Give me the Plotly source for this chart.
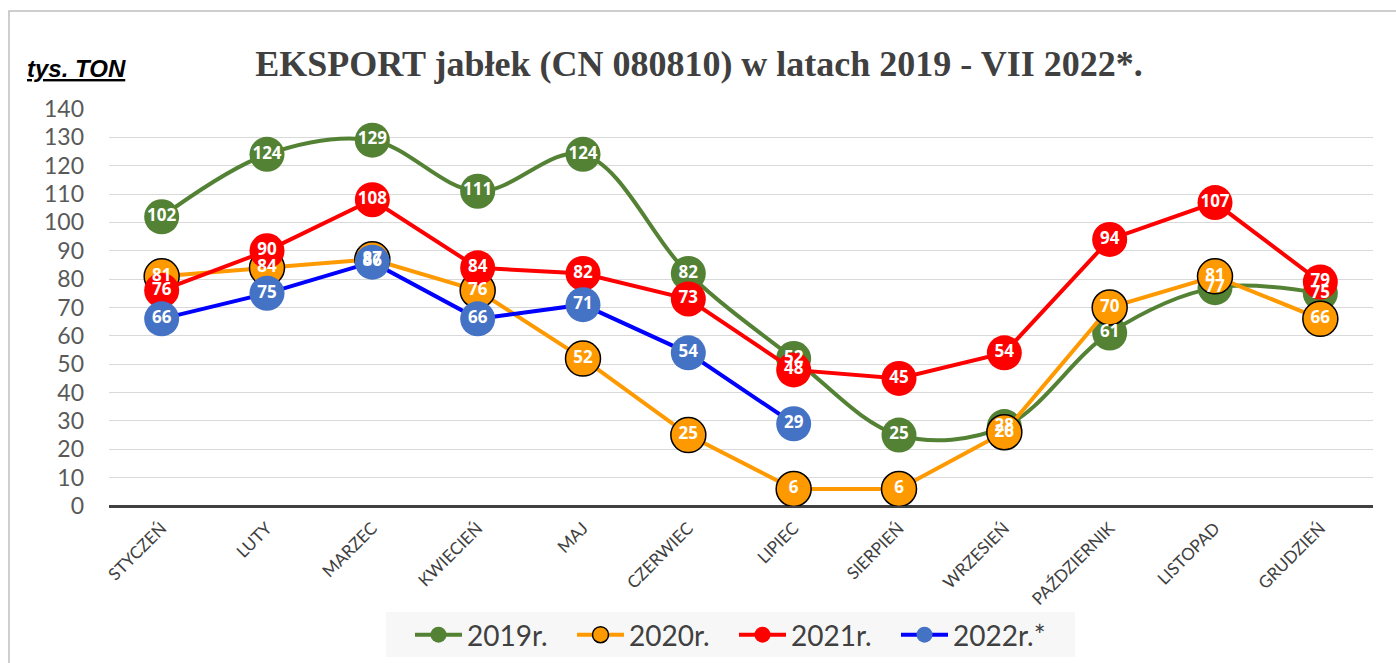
import plotly.graph_objects as go

months = ["STYCZEŃ", "LUTY", "MARZEC", "KWIECIEŃ", "MAJ", "CZERWIEC", "LIPIEC",
          "SIERPIEŃ", "WRZESIEŃ", "PAŹDZIERNIK", "LISTOPAD", "GRUDZIEŃ"]
y2019 = [102, 124, 129, 111, 124, 82, 52, 25, 28, 61, 77, 75]
y2020 = [81, 84, 87, 76, 52, 25, 6, 6, 26, 70, 81, 66]
y2021 = [76, 90, 108, 84, 82, 73, 48, 45, 54, 94, 107, 79]
y2022 = [66, 75, 86, 66, 71, 54, 29]

series = [
    ("2019r.", y2019, "#548235", "#548235", None, "spline"),
    ("2020r.", y2020, "#FF9900", "#FF9900", "#000000", "linear"),
    ("2021r.", y2021, "#FF0000", "#FF0000", None, "linear"),
    ("2022r.*", y2022, "#0000FF", "#4472C4", None, "linear"),
]

fig = go.Figure()
for name, vals, lc, mc, outline, shape in series:
    fig.add_trace(go.Scatter(
        x=months[:len(vals)], y=vals, name=name, mode="lines+markers",
        line=dict(color=lc, width=4, shape=shape, smoothing=1.0),
        marker=dict(size=35, color=mc,
                    line=dict(color=outline if outline else mc, width=1.5 if outline else 0)),
        hoverinfo="skip",
    ))
for name, vals, lc, mc, outline, shape in series:
    fig.add_trace(go.Scatter(
        x=months[:len(vals)], y=vals, mode="text", showlegend=False,
        text=[str(v) for v in vals], textposition="middle center",
        textfont=dict(family="Open Sans", size=17, color="white", weight="bold"),
        hoverinfo="skip",
    ))

W, H = 1396, 663
L, R, T, B = 109, 23, 109, 157
pw, ph = W - L - R, H - T - B

def px(x):
    return (x - L) / pw

def py(y):
    return (H - B - y) / ph

fig.update_layout(
    width=W, height=H,
    margin=dict(l=L, r=R, t=T, b=B, autoexpand=False),
    paper_bgcolor="white", plot_bgcolor="white",
    font=dict(family="Lato", color="#404040"),
    title=dict(text="EKSPORT jabłek (CN 080810) w latach 2019 - VII 2022*.",
               xref="container", yref="container",
               x=699 / W, xanchor="center", y=1 - 63 / H, yanchor="middle",
               font=dict(family="Liberation Serif", size=36, color="#404040", weight="bold")),
    xaxis=dict(range=[-0.5, 11.5], tickangle=-45,
               tickfont=dict(family="Lato", size=17, color="#404040"),
               showgrid=False, showline=False, ticks="", zeroline=False,
               ticklabelstandoff=8),
    yaxis=dict(range=[0, 140], dtick=10, tick0=0,
               tickfont=dict(family="Lato", size=23, color="#595959"),
               showgrid=True, gridcolor="#D9D9D9", gridwidth=1,
               zeroline=True, zerolinecolor="#404040", zerolinewidth=3,
               showline=False, ticks="", ticklabelstandoff=24),
    legend=dict(orientation="h", xref="container", yref="container",
                x=410 / W, xanchor="left", y=1 - 610 / H, yanchor="top",
                bgcolor="rgba(0,0,0,0)", font=dict(family="Lato", size=28, color="#404040"),
                itemwidth=47, entrywidth=100, entrywidthmode="pixels"),
    showlegend=True,
)

fig.add_annotation(text="<b><i><u>tys. TON</u></i></b>", xref="paper", yref="paper",
                   x=px(25), y=py(68), xanchor="left", yanchor="middle", showarrow=False,
                   font=dict(family="Liberation Sans", size=24, color="#000000"))

# chart border
fig.add_shape(type="rect", xref="paper", yref="paper",
              x0=px(9), x1=px(1402), y0=py(680), y1=py(11),
              line=dict(color="#BFBFBF", width=1.5), fillcolor="rgba(0,0,0,0)", layer="below")
# legend box
fig.add_shape(type="rect", xref="paper", yref="paper",
              x0=px(386), x1=px(1075), y0=py(657), y1=py(612),
              line=dict(width=0), fillcolor="#F7F7F7", layer="below")

fig.write_html("out.html", config={"displayModeBar": False},
               post_script="document.body.style.margin='0px';")
